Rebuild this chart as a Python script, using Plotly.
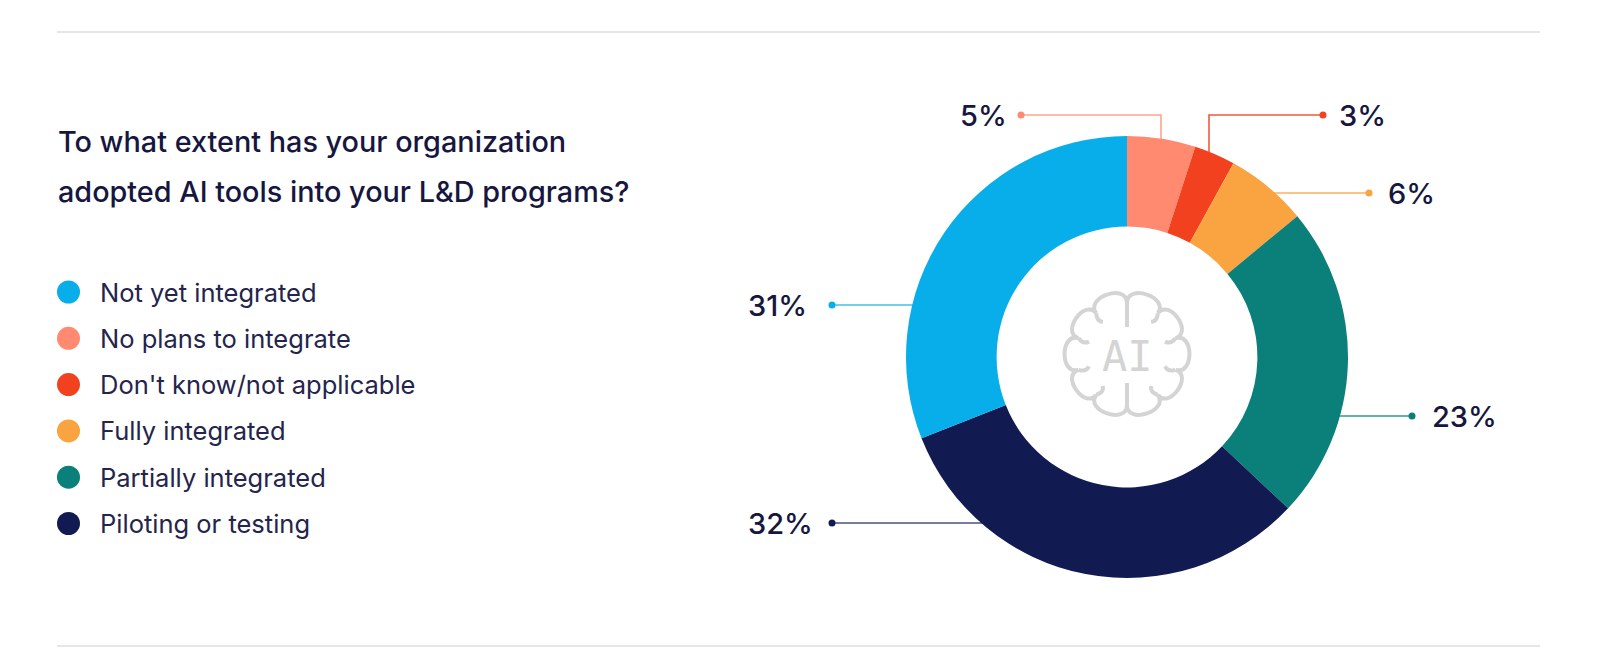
import math
import plotly.graph_objects as go
from typing import List, Tuple

# slice order as drawn, clockwise from 12 o'clock
CATEGORIES: List[str] = [
    'No plans to integrate',
    "Don't know/not applicable",
    'Fully integrated',
    'Partially integrated',
    'Piloting or testing',
    'Not yet integrated',
]
VALUES: List[int] = [5, 3, 6, 23, 32, 31]
COLORS: List[str] = ['#FF8A6F', '#F2411F', '#F9A341', '#0B7F7A', '#111B52', '#08AEEA']
LINE_COLORS: List[str] = ['#FFA48F', '#F25A3C', '#FAB15E', '#3A9691', '#48507A', '#45BFEE']

# legend order shown on the left
LEGEND_ORDER: List[str] = [
    'Not yet integrated',
    'No plans to integrate',
    "Don't know/not applicable",
    'Fully integrated',
    'Partially integrated',
    'Piloting or testing',
]

TITLE_LINES: List[str] = [
    'To what extent has your organization',
    'adopted AI tools into your L&D programs?',
]

W: int = 1600
H: int = 663
OFF: int = 8  # page body margin, figure is drawn in screen pixels
CX: float = 1127
CY: float = 357
R: float = 221
HOLE: float = 0.59

TEXT_DARK: str = '#16163F'
RULE_COLOR: str = '#E6E6E6'
ICON_COLOR: str = '#D4D4D4'
FONT: str = 'Inter'

# leader layout: (kind, anchor x, line y, dot x, label x, label side)
LEADERS: List[Tuple] = [
    ('elbow', 1161, 115, 1021, 1009, 'right'),
    ('elbow', 1209, 115, 1323, 1337, 'left'),
    ('flat', None, 193, 1369, 1386, 'left'),
    ('flat', None, 416, 1412, 1430, 'left'),
    ('flat', None, 523, 832, 815, 'right'),
    ('flat', None, 305, 832, 809, 'right'),
]


def edge_x(y: float, side: str) -> float:
    dx: float = math.sqrt(max(R ** 2 - (y - CY) ** 2, 0))
    return CX + dx if side == 'right' else CX - dx


def edge_y(x: float) -> float:
    return CY - math.sqrt(max(R ** 2 - (x - CX) ** 2, 0))


def brain_path(bx: float, by: float) -> Tuple[str, List[str]]:
    """ scalloped brain outline around (bx, by), plus inner strokes """
    rv: float = 51
    valleys: List[float] = [0, 37, 72, 108, 143, 180, 217, 252, 288, 323, 360]

    def pt(a: float, r: float) -> Tuple[float, float]:
        t = math.radians(a)
        return bx + r * math.sin(t), by - r * math.cos(t)

    d: str = 'M {:.1f},{:.1f}'.format(*pt(0, rv))
    for a0, a1 in zip(valleys[:-1], valleys[1:]):
        p0 = pt(a0, rv)
        p1 = pt(a1, rv)
        chord = math.dist(p0, p1)
        h = chord * 0.62
        c0 = pt(a0, rv + h)
        c1 = pt(a1, rv + h)
        d += ' C {:.1f},{:.1f} {:.1f},{:.1f} {:.1f},{:.1f}'.format(*c0, *c1, *p1)
    d += ' Z'

    extras: List[str] = [
        'M {:.1f},{:.1f} L {:.1f},{:.1f}'.format(bx, by - rv, bx, by - 27),
        'M {:.1f},{:.1f} L {:.1f},{:.1f}'.format(bx, by + 29, bx, by + rv),
    ]
    for a in [37, 72, 108, 143, 217, 252, 288, 323]:
        p0 = pt(a, rv)
        p1 = pt(a, rv - 11)
        q = pt(a + (6 if a < 180 else -6), rv - 6)
        extras.append('M {:.1f},{:.1f} Q {:.1f},{:.1f} {:.1f},{:.1f}'.format(*p0, *q, *p1))
    return d, extras


def update_layout(fig: go.Figure) -> None:
    fig.update_layout(
        width=W - OFF,
        height=H - OFF,
        autosize=False,
        margin={'l': 0, 'r': 0, 't': 0, 'b': 0},
        paper_bgcolor='white',
        plot_bgcolor='white',
        showlegend=False,
        xaxis={'range': [OFF, W], 'visible': False, 'fixedrange': True, 'domain': [0, 1]},
        yaxis={'range': [H, OFF], 'visible': False, 'fixedrange': True, 'domain': [0, 1]},
        font={'family': FONT, 'color': TEXT_DARK},
    )


if __name__ == '__main__':
    fig: go.Figure = go.Figure()

    # leader lines and dots (cartesian layer sits below the pie)
    for i, (kind, anchor, ly, dot_x, lab_x, lab_side) in enumerate(LEADERS):
        if kind == 'elbow':
            xs = [anchor, anchor, dot_x]
            ys = [edge_y(anchor) + 4, ly, ly]
        else:
            side = 'right' if dot_x > CX else 'left'
            ex = edge_x(ly, side)
            xs = [ex + (-4 if side == 'right' else 4), dot_x]
            ys = [ly, ly]
        fig.add_trace(go.Scatter(
            x=xs, y=ys, mode='lines',
            line={'color': LINE_COLORS[i], 'width': 1.6},
            hoverinfo='skip'))
        fig.add_trace(go.Scatter(
            x=[dot_x], y=[ly], mode='markers',
            marker={'color': COLORS[i], 'size': 7},
            hoverinfo='skip'))
        fig.add_annotation(
            x=lab_x, y=ly, xref='x', yref='y',
            text=f'{VALUES[i]}%', showarrow=False,
            xanchor=lab_side, yanchor='middle',
            font={'size': 29, 'color': TEXT_DARK, 'family': FONT, 'weight': 500})

    # legend dots on the left
    legend_y: List[float] = [292 + 46.3 * k for k in range(len(LEGEND_ORDER))]
    fig.add_trace(go.Scatter(
        x=[68.5] * len(LEGEND_ORDER), y=legend_y, mode='markers',
        marker={'color': [COLORS[CATEGORIES.index(c)] for c in LEGEND_ORDER], 'size': 23},
        hoverinfo='skip'))
    for name, ly in zip(LEGEND_ORDER, legend_y):
        fig.add_annotation(
            x=98, y=ly, xref='x', yref='y', text=name, showarrow=False,
            xanchor='left', yanchor='middle',
            font={'size': 25.5, 'color': '#24244C', 'family': FONT})

    # title
    for k, line in enumerate(TITLE_LINES):
        fig.add_annotation(
            x=56, y=141 + 50 * k, xref='x', yref='y', text=line, showarrow=False,
            xanchor='left', yanchor='middle',
            font={'size': 28.8, 'color': TEXT_DARK, 'family': FONT, 'weight': 500})

    # donut
    fig.add_trace(go.Pie(
        labels=CATEGORIES,
        values=VALUES,
        sort=False,
        direction='clockwise',
        rotation=0,
        hole=HOLE,
        marker={'colors': COLORS, 'line': {'width': 0}},
        textinfo='none',
        hoverinfo='label+percent',
        domain={
            'x': [(CX - R - OFF) / (W - OFF), (CX + R - OFF) / (W - OFF)],
            'y': [1 - (CY + R - OFF) / (H - OFF), 1 - (CY - R - OFF) / (H - OFF)],
        },
    ))

    # horizontal rules
    for ry in [32, 646]:
        fig.add_shape(type='line', xref='x', yref='y', x0=57, x1=1540, y0=ry, y1=ry,
                      line={'color': RULE_COLOR, 'width': 2})

    # brain icon in the hole
    outline, strokes = brain_path(CX, CY - 3)
    fig.add_shape(type='path', xref='x', yref='y', path=outline,
                  line={'color': ICON_COLOR, 'width': 4}, layer='above')
    for s in strokes:
        fig.add_shape(type='path', xref='x', yref='y', path=s,
                      line={'color': ICON_COLOR, 'width': 4}, layer='above')
    fig.add_annotation(
        x=CX, y=CY - 1, xref='x', yref='y', text='AI', showarrow=False,
        font={'size': 42, 'color': ICON_COLOR, 'family': 'DejaVu Sans Mono'})

    update_layout(fig=fig)
    fig.write_html('out.html')
